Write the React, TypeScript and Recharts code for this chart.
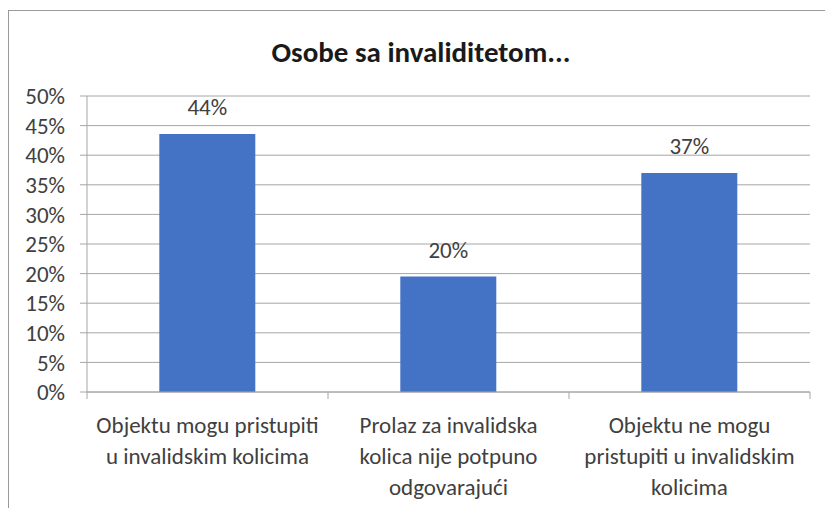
import React from "react";
import { BarChart, Bar, XAxis, YAxis, CartesianGrid, LabelList } from "recharts";

const categories = [
  "Objektu mogu pristupiti u invalidskim kolicima",
  "Prolaz za invalidska kolica nije potpuno odgovarajući",
  "Objektu ne mogu pristupiti u invalidskim kolicima",
];
const tickLines = [
  ["Objektu mogu pristupiti", "u invalidskim kolicima"],
  ["Prolaz za invalidska", "kolica nije potpuno", "odgovarajući"],
  ["Objektu ne mogu", "pristupiti u invalidskim", "kolicima"],
];
const values = [43.6, 19.5, 37.0];
const yTicks = [0, 5, 10, 15, 20, 25, 30, 35, 40, 45, 50];

const data = categories.map((name, i) => ({ name, value: values[i] }));

const FONT = "Carlito, 'Liberation Sans', sans-serif";
const GRID = "#a6a6a6";
const TEXT = "#404040";
const FS = 23;

function CategoryTick(props: any) {
  const { x, y, payload, index } = props;
  const half = payload?.offset ?? 0;
  const lines = tickLines[index] ?? [String(payload.value)];
  return (
    <g>
      <line x1={x - half} x2={x - half} y1={y} y2={y + 7} stroke={GRID} />
      {index === categories.length - 1 && (
        <line x1={x + half} x2={x + half} y1={y} y2={y + 7} stroke={GRID} />
      )}
      <text
        x={x}
        y={y}
        textAnchor="middle"
        fill={TEXT}
        fontSize={FS}
        fontFamily={FONT}
      >
        {lines.map((l, i) => (
          <tspan key={i} x={x} dy={i === 0 ? 41 : 31}>
            {l}
          </tspan>
        ))}
      </text>
    </g>
  );
}

export default function App() {
  return (
    <div style={{ position: "absolute", left: 0, top: 0, width: 825, height: 508, overflow: "hidden", background: "#fff" }}>
      <div
        style={{
          position: "absolute",
          left: 8,
          top: 10,
          width: 840,
          height: 520,
          border: "1px solid #9a9a9a",
        }}
      />
      <div
        style={{
          position: "absolute",
          left: 0,
          top: 34,
          width: 842,
          textAlign: "center",
          fontFamily: FONT,
          fontWeight: "bold",
          fontSize: 29,
          lineHeight: "normal",
          color: "#1a1a1a",
        }}
      >
        Osobe sa invaliditetom...
      </div>
      <div style={{ position: "absolute", left: 0, top: 0 }}>
        <BarChart
          width={825}
          height={508}
          data={data}
          margin={{ top: 96, right: 15, bottom: 0, left: 0 }}
          barCategoryGap="30%"
        >
          <CartesianGrid vertical={false} stroke={GRID} />
          <XAxis
            dataKey="name"
            height={116}
            interval={0}
            tickSize={0}
            tickMargin={0}
            tickLine={false}
            axisLine={{ stroke: GRID }}
            tick={<CategoryTick />}
          />
          <YAxis
            width={87}
            domain={[0, 50]}
            ticks={yTicks}
            interval={0}
            tickSize={7}
            tickMargin={15}
            tickLine={{ stroke: GRID }}
            axisLine={{ stroke: GRID }}
            tickFormatter={(v: number) => `${v}%`}
            tick={{ fill: TEXT, fontSize: FS, fontFamily: FONT }}
          />
          <Bar dataKey="value" fill="#4472C4" isAnimationActive={false}>
            <LabelList
              dataKey="value"
              position="top"
              offset={19}
              formatter={(v: any) => `${Math.round(Number(v))}%`}
              fill={TEXT}
              fontSize={FS}
              fontFamily={FONT}
            />
          </Bar>
        </BarChart>
      </div>
    </div>
  );
}
